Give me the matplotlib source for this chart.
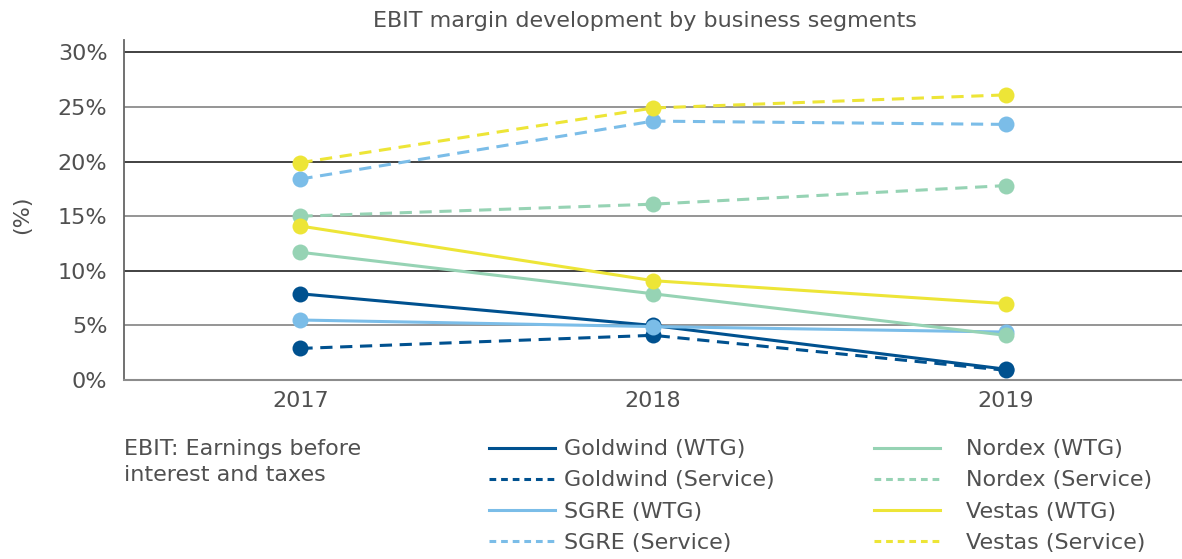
import matplotlib
matplotlib.use("Agg")
import matplotlib.pyplot as plt
from matplotlib.lines import Line2D

plt.rcParams['font.family'] = ['DejaVu Sans']

# data
years = ['2017', '2018', '2019']
goldwind_wtg = [7.9, 5.0, 1.0]
goldwind_service = [2.9, 4.1, 0.9]
sgre_wtg = [5.5, 4.9, 4.4]
sgre_service = [18.4, 23.7, 23.4]
nordex_wtg = [11.7, 7.9, 4.1]
nordex_service = [15.0, 16.1, 17.8]
vestas_wtg = [14.1, 9.1, 7.0]
vestas_service = [19.9, 24.9, 26.1]
yticks = [0, 5, 10, 15, 20, 25, 30]

DARK = '#00518f'
LIGHT = '#7bbde8'
MINT = '#96d3b4'
YELLOW = '#ede537'
TXT = '#505050'
FS = 16

series = [
    ('Goldwind (WTG)', goldwind_wtg, DARK, '-'),
    ('Goldwind (Service)', goldwind_service, DARK, '--'),
    ('SGRE (WTG)', sgre_wtg, LIGHT, '-'),
    ('SGRE (Service)', sgre_service, LIGHT, '--'),
    ('Nordex (WTG)', nordex_wtg, MINT, '-'),
    ('Nordex (Service)', nordex_service, MINT, '--'),
    ('Vestas (WTG)', vestas_wtg, YELLOW, '-'),
    ('Vestas (Service)', vestas_service, YELLOW, '--'),
]

fig = plt.figure(figsize=(11.82, 5.59), dpi=100)
ax = fig.add_axes([0.105, 0.320, 0.895, 0.608])

x = list(range(len(years)))
handles = []
for name, vals, col, ls in series:
    ax.plot(x, vals, color=col, linestyle=ls, lw=2.2, dashes=(4, 2.5) if ls == '--' else (None, None),
            marker='o', markersize=11.5, markeredgewidth=0, zorder=3)
    handles.append(Line2D([], [], color=col, lw=2.2, linestyle=ls,
                          dashes=(2.2, 1.6) if ls == '--' else (None, None)))

# horizontal grid lines, alternating dark/grey like the original
for t in yticks[1:]:
    ax.axhline(t, color='#333333' if t % 10 == 0 else '#8c8c8c', lw=1.3, zorder=1)

ax.set_xlim(-0.5, 2.5)
ax.set_ylim(0, 31.1)
ax.set_xticks(x)
ax.set_xticklabels(years)
ax.set_yticks(yticks)
ax.set_yticklabels([f'{t}%' for t in yticks])
ax.tick_params(length=0, labelsize=FS, colors=TXT, pad=12)
ax.tick_params(axis='x', pad=8)
for s in ['top', 'right']:
    ax.spines[s].set_visible(False)
ax.spines['left'].set_color('#666666')
ax.spines['bottom'].set_color('#8c8c8c')
ax.spines['left'].set_linewidth(1.3)
ax.spines['bottom'].set_linewidth(1.5)

fig.text(0.546, 0.963, 'EBIT margin development by business segments',
         ha='center', va='center', fontsize=FS, color=TXT)
fig.text(0.019, 0.615, '(%)', rotation=90, ha='center', va='center', fontsize=FS, color=TXT)
fig.text(0.105, 0.173, 'EBIT: Earnings before\ninterest and taxes', ha='left', va='center',
         fontsize=FS, color=TXT, linespacing=1.4)

names = [s[0] for s in series]
leg1 = fig.legend(handles[:4], names[:4], loc='upper left', bbox_to_anchor=(0.404, 0.234),
                  frameon=False, fontsize=FS, handlelength=2.97, handletextpad=0.4,
                  labelspacing=0.5, borderpad=0, labelcolor=TXT)
leg2 = fig.legend(handles[4:], names[4:], loc='upper left', bbox_to_anchor=(0.730, 0.234),
                  frameon=False, fontsize=FS, handlelength=2.97, handletextpad=1.17,
                  labelspacing=0.5, borderpad=0, labelcolor=TXT)

fig.savefig('out.png', dpi=100)
